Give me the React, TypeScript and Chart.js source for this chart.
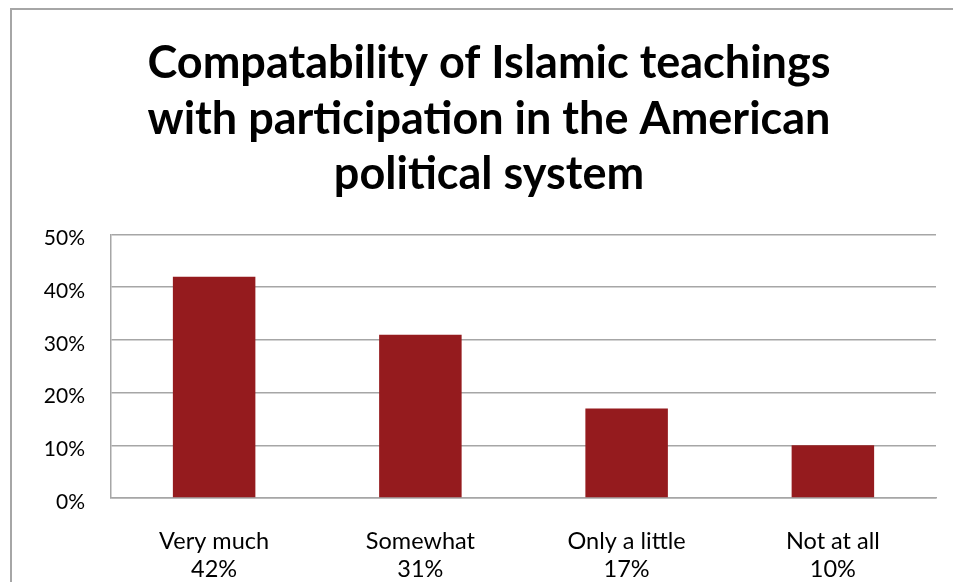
import React, { useEffect, useRef } from "react";
import { Chart, registerables } from "chart.js";

Chart.register(...registerables);

const categories = ["Very much", "Somewhat", "Only a little", "Not at all"];
const values = [42, 31, 17, 10];
const yTicks = [0, 10, 20, 30, 40, 50];
const titleLines = [
  "Compatability of Islamic teachings",
  "with participation in the American",
  "political system",
];

const FONT = "Lato, 'Open Sans', sans-serif";

export default function App() {
  const ref = useRef<HTMLCanvasElement | null>(null);

  useEffect(() => {
    if (!ref.current) return;
    const chart = new Chart(ref.current, {
      type: "bar",
      data: {
        labels: categories.map((c, i) => [c, `${values[i]}%`]),
        datasets: [
          {
            data: values,
            backgroundColor: "#951B1E",
            borderWidth: 0,
            barPercentage: 0.4,
            categoryPercentage: 1,
          },
        ],
      },
      options: {
        responsive: false,
        animation: false,
        layout: { padding: { left: 30, right: 17, top: 0, bottom: 0 } },
        plugins: {
          legend: { display: false },
          tooltip: { enabled: false },
          title: {
            display: true,
            text: titleLines,
            color: "#000",
            font: { family: FONT, size: 45, weight: "bold", lineHeight: 1.23 },
            padding: { top: 26, bottom: 32.5 },
          },
        },
        scales: {
          x: {
            grid: { display: false, drawTicks: false },
            border: { display: true, color: "#A6A6A6", width: 1.5 },
            ticks: {
              color: "#000",
              font: { family: FONT, size: 23.5, lineHeight: 1.2 },
              padding: 29,
              maxRotation: 0,
              autoSkip: false,
            },
            afterFit: (s: any) => {
              s.height = 84;
            },
          },
          y: {
            min: yTicks[0],
            max: yTicks[yTicks.length - 1],
            ticks: {
              stepSize: 10,
              callback: (v: any) => `${v}%`,
              color: "#000",
              font: { family: FONT, size: 21 },
              padding: 26,
              labelOffset: 4,
            },
            grid: { color: "#A6A6A6", lineWidth: 1.5, drawTicks: false },
            border: { display: true, color: "#A6A6A6", width: 1.5 },
            afterFit: (s: any) => {
              s.width = 69;
            },
          },
        },
      },
    });
    return () => chart.destroy();
  }, []);

  return (
    <div
      style={{
        position: "fixed",
        left: 0,
        top: 0,
        width: 953,
        height: 582,
        overflow: "hidden",
        background: "#fff",
      }}
    >
      <div
        style={{
          position: "absolute",
          left: 10,
          top: 8,
          width: 960,
          height: 600,
          border: "2px solid #A6A6A6",
          background: "#fff",
        }}
      >
        <canvas
          ref={ref}
          width={941}
          height={572}
          style={{ display: "block", width: 941, height: 572 }}
        />
      </div>
    </div>
  );
}
